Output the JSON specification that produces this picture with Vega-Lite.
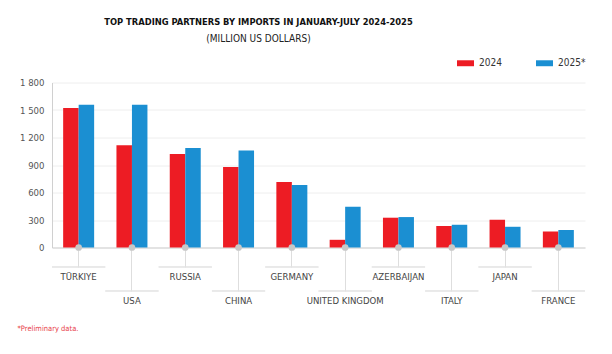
{
  "$schema": "https://vega.github.io/schema/vega-lite/v6.json",
  "width": 533,
  "height": 165,
  "autosize": {"type": "none"},
  "padding": {"left": 52, "top": 82.5, "right": 27, "bottom": 106.5},
  "background": "white",
  "config": {
    "font": "Liberation Sans Narrow, DejaVu Sans Condensed, sans-serif",
    "view": {"stroke": null},
    "axisY": {
      "title": null,
      "labelExpr": "replace(format(datum.value, ',d'), ',', ' ')",
      "labelFontSize": 9.5,
      "labelColor": "#555",
      "labelPadding": 8,
      "labelOverlap": false,
      "ticks": false,
      "domainColor": "#d0d0d0",
      "gridColor": "#eeeeee",
      "gridWidth": 1
    }
  },
  "title": {
    "text": "TOP TRADING PARTNERS BY IMPORTS IN JANUARY-JULY 2024-2025",
    "subtitle": "(MILLION US DOLLARS)",
    "anchor": "middle",
    "frame": "group",
    "dx": -60,
    "offset": 10,
    "fontSize": 9.3,
    "fontWeight": "bold",
    "color": "#111",
    "subtitleFontSize": 10,
    "subtitleColor": "#222",
    "subtitlePadding": 7
  },
  "data": {
    "values": [
      {"country": "TÜRKIYE", "year": "2024", "value": 1523},
      {"country": "TÜRKIYE", "year": "2025", "value": 1556},
      {"country": "USA", "year": "2024", "value": 1115},
      {"country": "USA", "year": "2025", "value": 1556},
      {"country": "RUSSIA", "year": "2024", "value": 1021},
      {"country": "RUSSIA", "year": "2025", "value": 1086},
      {"country": "CHINA", "year": "2024", "value": 879},
      {"country": "CHINA", "year": "2025", "value": 1057},
      {"country": "GERMANY", "year": "2024", "value": 715},
      {"country": "GERMANY", "year": "2025", "value": 682},
      {"country": "UNITED KINGDOM", "year": "2024", "value": 84},
      {"country": "UNITED KINGDOM", "year": "2025", "value": 445},
      {"country": "AZERBAIJAN", "year": "2024", "value": 325},
      {"country": "AZERBAIJAN", "year": "2025", "value": 332},
      {"country": "ITALY", "year": "2024", "value": 234},
      {"country": "ITALY", "year": "2025", "value": 248},
      {"country": "JAPAN", "year": "2024", "value": 303},
      {"country": "JAPAN", "year": "2025", "value": 226},
      {"country": "FRANCE", "year": "2024", "value": 175},
      {"country": "FRANCE", "year": "2025", "value": 190}
    ]
  },
  "encoding": {
    "x": {
      "field": "country",
      "type": "nominal",
      "sort": null,
      "scale": {"paddingInner": 0, "paddingOuter": 0},
      "axis": {
        "title": "*Preliminary data.",
        "titleColor": "#e8414a",
        "titleFontSize": 7.5,
        "titleFontWeight": "normal",
        "titleAnchor": "start",
        "titleAlign": "left",
        "titleBaseline": "alphabetic",
        "titleX": -35,
        "titleY": 82.5,
        "labelAngle": 0,
        "labelFontSize": 9.5,
        "labelColor": "#444",
        "labelBaseline": "top",
        "labelPadding": 4,
        "tickColor": "#dedede",
        "tickWidth": 1,
        "tickSize": {"expr": "indexof(domain('x'), datum.value) % 2 ? 43.5 : 19.5"},
        "domainColor": "#cfcfcf",
        "domainWidth": 1.2,
        "labelOverlap": false
      }
    }
  },
  "layer": [
    {
      "mark": {"type": "bar"},
      "encoding": {
        "xOffset": {"field": "year", "type": "nominal", "scale": {"paddingInner": 0, "paddingOuter": 0.72}},
        "y": {
          "field": "value",
          "type": "quantitative",
          "scale": {"domain": [0, 1800], "nice": false, "zero": true},
          "axis": {"values": [0, 300, 600, 900, 1200, 1500, 1800]}
        },
        "color": {
          "field": "year",
          "type": "nominal",
          "scale": {"domain": ["2024", "2025"], "range": ["#ED1C24", "#1B8FD2"]},
          "legend": {
            "title": null,
            "orient": "none",
            "direction": "horizontal",
            "legendX": 405,
            "legendY": -28,
            "symbolType": "M-1,-0.35H1V0.35H-1Z",
            "symbolSize": 289,
            "symbolStrokeWidth": 0,
            "labelFontSize": 10,
            "labelColor": "#333",
            "labelOffset": 5,
            "columnPadding": 34,
            "labelExpr": "datum.label == '2025' ? '2025*' : datum.label"
          }
        }
      }
    },
    {
      "transform": [
        {"filter": {"field": "year", "equal": "2024"}},
        {"filter": {"field": "country", "oneOf": ["TÜRKIYE", "RUSSIA", "GERMANY", "AZERBAIJAN", "JAPAN"]}}
      ],
      "mark": {"type": "bar", "fill": null, "stroke": "#e2e2e2", "strokeWidth": 1},
      "encoding": {"y": {"datum": -212.7, "type": "quantitative", "axis": {"values": [0, 300, 600, 900, 1200, 1500, 1800]}}, "y2": {"datum": -212.7}}
    },
    {
      "transform": [
        {"filter": {"field": "year", "equal": "2024"}},
        {"filter": {"field": "country", "oneOf": ["USA", "CHINA", "UNITED KINGDOM", "ITALY", "FRANCE"]}}
      ],
      "mark": {"type": "bar", "fill": null, "stroke": "#e2e2e2", "strokeWidth": 1},
      "encoding": {"y": {"datum": -474.5, "type": "quantitative", "axis": {"values": [0, 300, 600, 900, 1200, 1500, 1800]}}, "y2": {"datum": -474.5}}
    },
    {
      "transform": [{"filter": {"field": "year", "equal": "2024"}}],
      "mark": {"type": "point", "filled": true, "color": "#c8c8c8", "opacity": 1, "size": 45},
      "encoding": {"y": {"datum": 0, "type": "quantitative", "axis": {"values": [0, 300, 600, 900, 1200, 1500, 1800]}}}
    }
  ]
}
